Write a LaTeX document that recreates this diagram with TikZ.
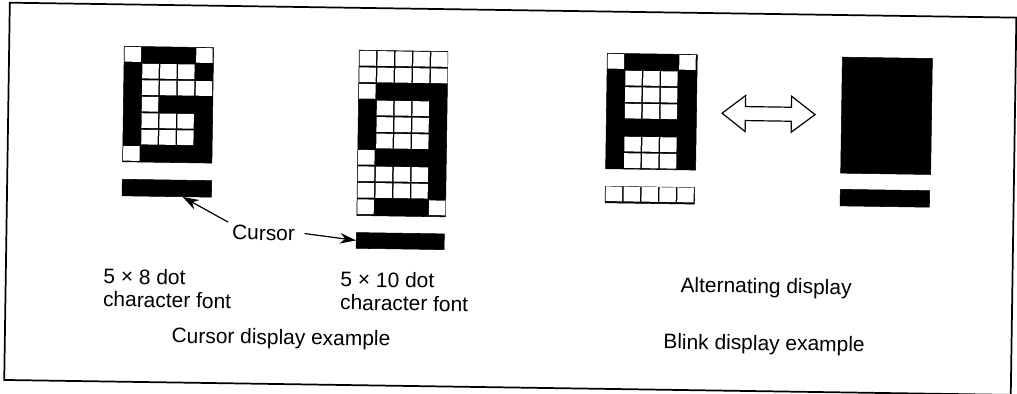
\documentclass[tikz,border=0pt]{standalone}
\usepackage{fontspec}
\setmainfont{Liberation Sans}
\usetikzlibrary{arrows.meta,calc}
\tikzset{
  solid box/.style={draw,fill=black,inner sep=0pt,anchor=north west},
  dot/.style={fill=white,inner sep=0pt,minimum width=12.3pt,minimum height=11pt},
  lbl/.style={align=left,inner sep=0pt,font=\fontsize{15.7}{17.3}\selectfont},
  arr/.style={-{Stealth[length=12pt,width=8pt]},line width=0.9pt},
}
% white dots of a grid: left, top, rows
\newcommand{\dotcells}[3]{
  \foreach \cols [count=\r] in {#3}
    \foreach \c in \cols
      \node[dot] (d#1r\r c\c) at ({#1+(\c-.5)*17.9},{#2+(\r-.5)*16.5}) {};
}

\begin{document}
\begin{tikzpicture}[x=0.75pt,y=-0.75pt,every node/.append style={transform shape}]
\useasboundingbox (0,0) rectangle (1017,393);
\begin{scope}[rotate=-0.85]
% frame
\node[draw,line width=1.3pt,inner sep=0pt,minimum width=755pt,minimum height=283pt] (frame) at (513.2,191.2) {};

% 5x8 font
\node[solid box,minimum width=67pt,minimum height=86.6pt] (gridA) at (124.7,44.2) {};
\dotcells{124.7}{44.2}{{1,5},{2,3,4},{2,3,4,5},{2},{2,3,4},{2,3,4},{1}}
\node[solid box,minimum width=67pt,minimum height=12.4pt] (curA) at (124.7,177.2) {};

% 5x10 font
\node[solid box,minimum width=66.5pt,minimum height=124pt] (gridB) at (359.7,44.6) {};
\dotcells{359.7}{44.6}{{1,2,3,4,5},{1,2,3,4,5},{1},{2,3,4},{2,3,4},{2,3,4},{1},{1,2,3,4},{1,2,3,4},{1,5}}
\node[solid box,minimum width=66pt,minimum height=11.8pt] (curB) at (359.5,227) {};

% blink
\node[solid box,minimum width=67.5pt,minimum height=86.6pt] (gridC) at (607.8,44) {};
\dotcells{607.8}{44}{{1,5},{2,3,4},{2,3,4},{2,3,4},{},{2,3,4},{2,3,4}}
\node[solid box,minimum width=67pt,minimum height=12.4pt] (curC) at (607.8,177) {};
\dotcells{607.8}{176.5}{{1,2,3,4,5}}
\node[solid box,minimum width=67.5pt,minimum height=87pt] (gridD) at (842.9,44.4) {};
\node[solid box,minimum width=67pt,minimum height=12.4pt] (curD) at (842.8,176.6) {};
\draw[line width=0.9pt,fill=white] (723.7,102.5) -- (747,84.5) -- (747,95.5) -- (793,95.5) -- (793,84.5)
  -- (816.7,102.5) -- (793,120.5) -- (793,109.5) -- (747,109.5) -- (747,120.5) -- cycle;

% labels
\node[lbl] (cursor) at (267,229) {Cursor};
\node[lbl,anchor=west] (fontA) at (107.3,286) {5 × 8 dot\\character font};
\node[lbl,anchor=west] (fontB) at (344.4,285.6) {5 × 10 dot\\character font};
\node[lbl] (capA) at (286,334.8) {Cursor display example};
\node[lbl] (alt) at (770.3,276.5) {Alternating display};
\node[lbl] (capB) at (769.1,333.5) {Blink display example};

\draw[arr] ([xshift=-3pt,yshift=2pt]cursor.north west) -- ([xshift=12pt]curA.south);
\draw[arr] ([xshift=7pt]cursor.east) -- (curB.west);
\end{scope}
\end{tikzpicture}
\end{document}
